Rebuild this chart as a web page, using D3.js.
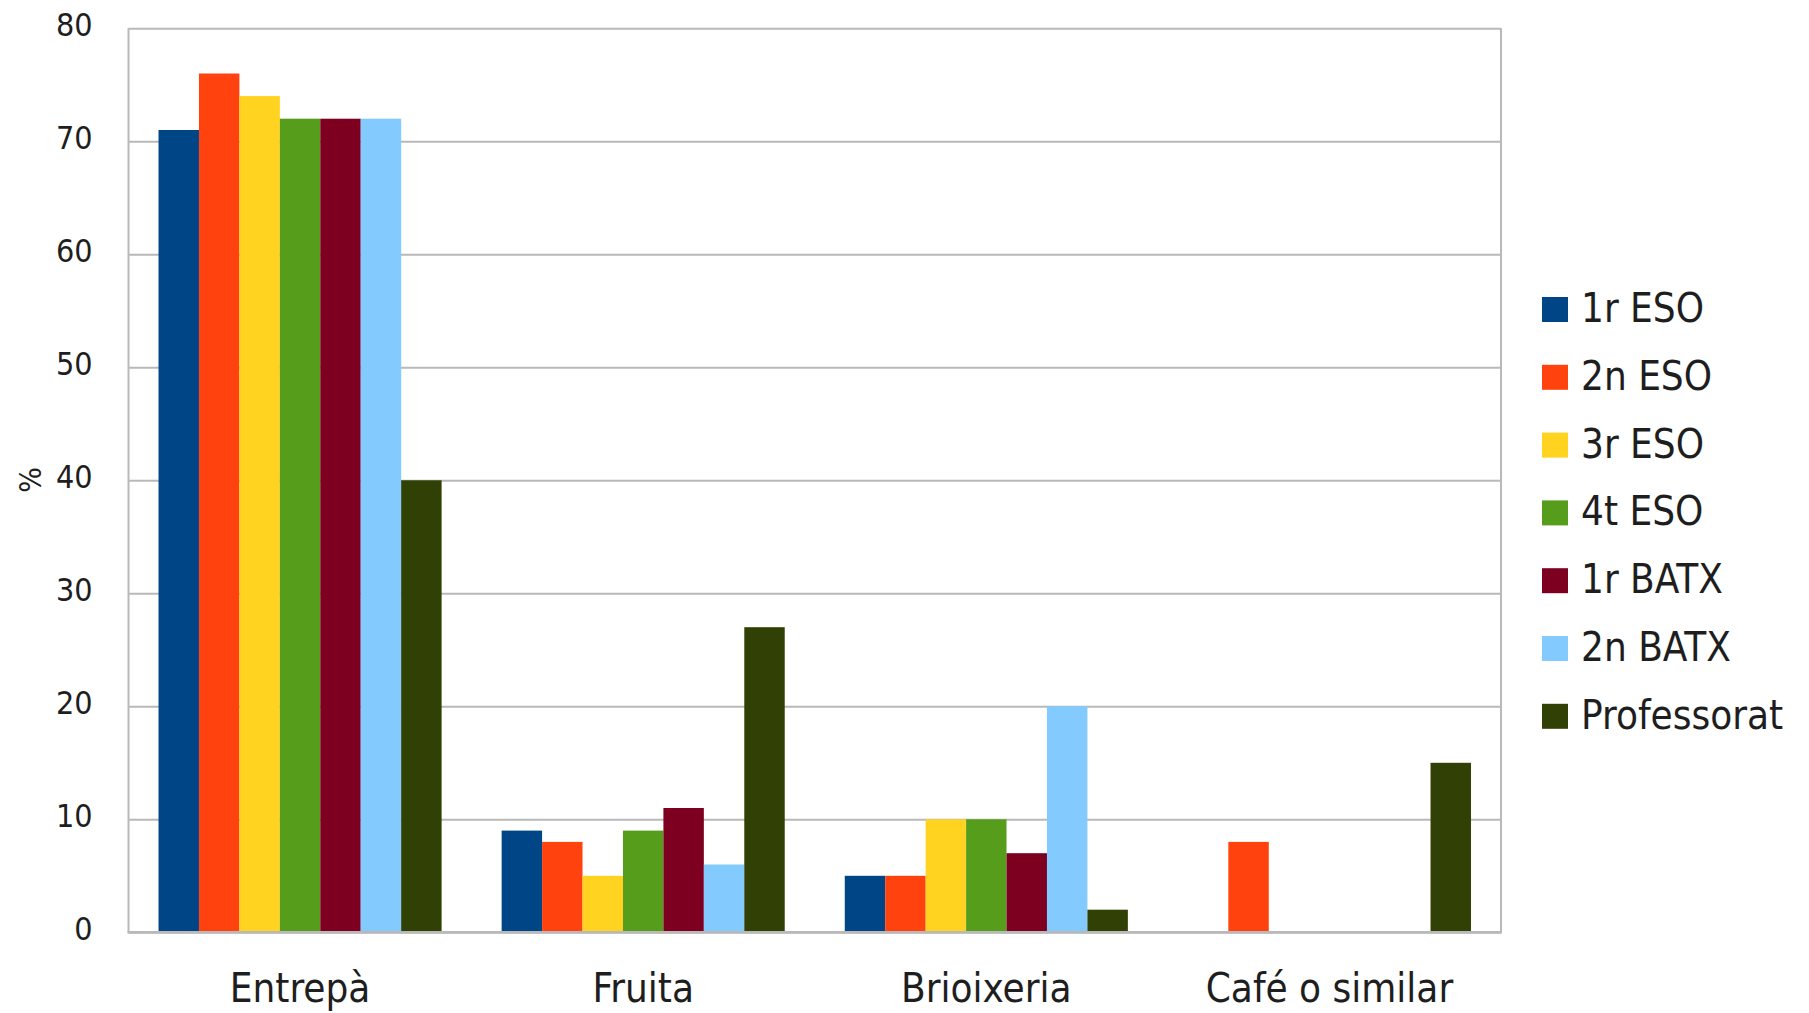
<!DOCTYPE html>
<html>
<head>
<meta charset="utf-8">
<script src="https://cdn.jsdelivr.net/npm/d3@7"></script>
<style>
  html, body { margin: 0; padding: 0; background: #ffffff; }
  svg text { font-family: "DejaVu Sans Condensed", "DejaVu Sans", sans-serif; fill: #1e1e1e; }
</style>
</head>
<body>
<svg id="chart" width="1809" height="1013"></svg>
<script>
// Categories of what is eaten at break time
const categories = ["Entrepà", "Fruita", "Brioixeria", "Café o similar"];

// Groups surveyed (one bar per group in each category)
const groups = ["1r ESO", "2n ESO", "3r ESO", "4t ESO", "1r BATX", "2n BATX", "Professorat"];

// Percentages per group, in the order of `categories`
const val1rESO      = [71, 9, 5, 0];
const val2nESO      = [76, 8, 5, 8];
const val3rESO      = [74, 5, 10, 0];
const val4tESO      = [72, 9, 10, 0];
const val1rBATX     = [72, 11, 7, 0];
const val2nBATX     = [72, 6, 20, 0];
const valProfessorat = [40, 27, 2, 15];

const seriesValues = [val1rESO, val2nESO, val3rESO, val4tESO, val1rBATX, val2nBATX, valProfessorat];

const yTicks = [0, 10, 20, 30, 40, 50, 60, 70, 80];

const colors = ["#004586", "#ff420e", "#ffd320", "#579d1c", "#7e0021", "#83caff", "#314004"];

const svg = d3.select("#chart");

const plot = { left: 128.5, right: 1501, top: 28.3, bottom: 932.3 };

const y = d3.scaleLinear().domain([0, 80]).range([plot.bottom, plot.top]);

const x0 = d3.scaleBand()
  .domain(categories)
  .range([plot.left, plot.right])
  .paddingInner(0.175)
  .paddingOuter(0.0875);

const x1 = d3.scaleBand()
  .domain(groups)
  .range([0, x0.bandwidth()])
  .padding(0);

const color = d3.scaleOrdinal().domain(groups).range(colors);

// Horizontal gridlines and tick labels
const yAxis = d3.axisLeft(y)
  .tickValues(yTicks)
  .tickSize(-(plot.right - plot.left))
  .tickPadding(36)
  .tickFormat(d3.format("d"));

const gy = svg.append("g")
  .attr("transform", `translate(${plot.left},0)`)
  .call(yAxis);
gy.select(".domain").remove();
gy.selectAll(".tick line").attr("stroke", "#b9b9b9").attr("stroke-width", 2);
gy.selectAll(".tick text")
  .attr("font-size", 32)
  .attr("x", -36)
  .attr("dy", "0.24em")
  .style("fill", "#1e1e1e");

// Plot frame (left and right edges)
svg.append("line")
  .attr("x1", plot.left).attr("x2", plot.left)
  .attr("y1", plot.top).attr("y2", plot.bottom)
  .attr("stroke", "#b9b9b9").attr("stroke-width", 2);
svg.append("line")
  .attr("x1", plot.right).attr("x2", plot.right)
  .attr("y1", plot.top).attr("y2", plot.bottom)
  .attr("stroke", "#b9b9b9").attr("stroke-width", 2);

// Bars
const rows = categories.map((c, ci) => ({
  category: c,
  values: groups.map((g, gi) => ({ group: g, value: seriesValues[gi][ci] }))
}));

const cat = svg.append("g").selectAll("g")
  .data(rows)
  .join("g")
  .attr("transform", d => `translate(${x0(d.category)},0)`);

cat.selectAll("rect")
  .data(d => d.values.filter(v => v.value > 0))
  .join("rect")
  .attr("x", d => x1(d.group))
  .attr("y", d => y(d.value))
  .attr("width", x1.bandwidth())
  .attr("height", d => y(0) - y(d.value))
  .attr("fill", d => color(d.group));

// Baseline drawn over the bars
svg.append("line")
  .attr("x1", plot.left - 1).attr("x2", plot.right + 1)
  .attr("y1", plot.bottom).attr("y2", plot.bottom)
  .attr("stroke", "#b9b9b9").attr("stroke-width", 2.5);

// Category labels
const xAxis = d3.axisBottom(x0).tickSize(0).tickPadding(0);
const gx = svg.append("g")
  .attr("transform", `translate(0,${plot.bottom})`)
  .call(xAxis);
gx.select(".domain").remove();
gx.selectAll(".tick text")
  .attr("font-size", 40)
  .attr("y", 70)
  .attr("dy", 0)
  .style("fill", "#1e1e1e");

// Y-axis title
svg.append("text")
  .attr("transform", "translate(41,480) rotate(-90)")
  .attr("text-anchor", "middle")
  .attr("font-size", 30)
  .text("%");

// Legend
const legend = svg.append("g")
  .attr("transform", "translate(1542,297)");

const item = legend.selectAll("g")
  .data(groups)
  .join("g")
  .attr("transform", (d, i) => `translate(0,${i * 67.8})`);

item.append("rect")
  .attr("width", 26)
  .attr("height", 25)
  .attr("fill", d => color(d));

item.append("text")
  .attr("x", 39)
  .attr("y", 25)
  .attr("font-size", 40)
  .text(d => d);
</script>
</body>
</html>
